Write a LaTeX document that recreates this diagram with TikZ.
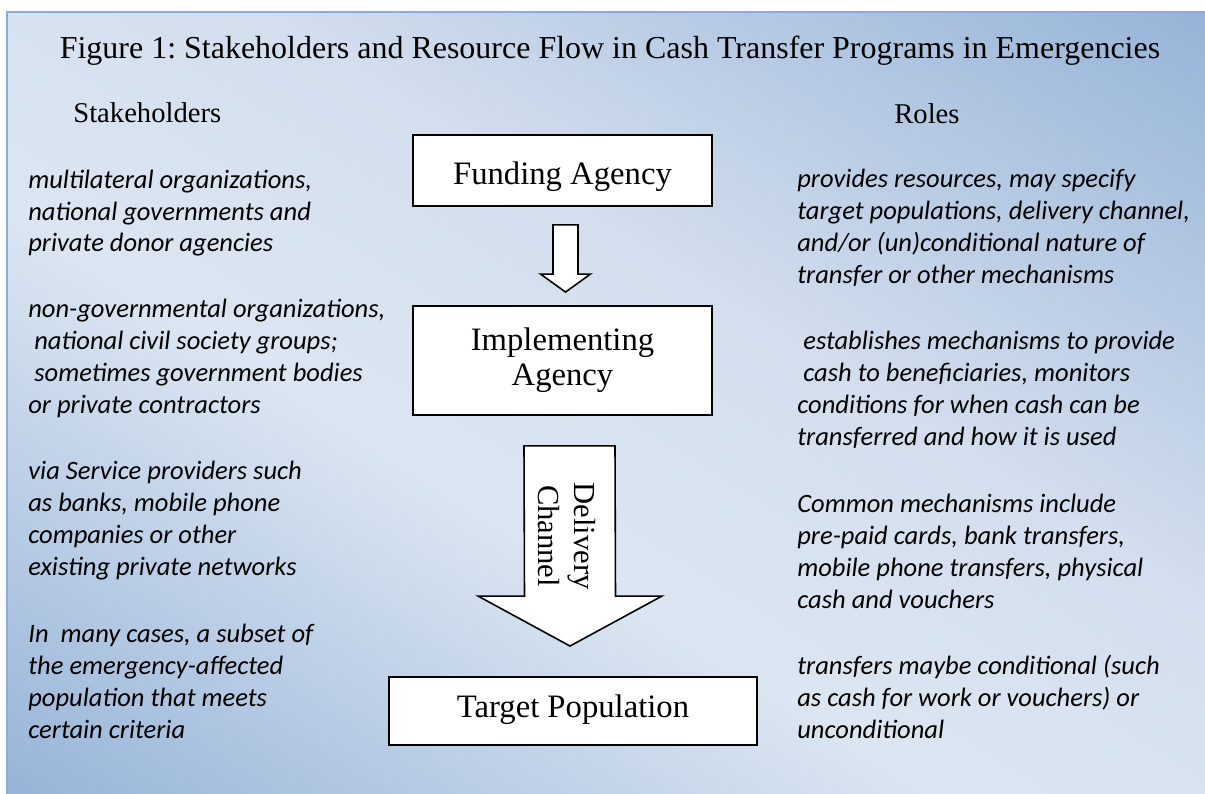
\documentclass[tikz,border=0pt]{standalone}
\usepackage{fontspec}
\setmainfont{Liberation Serif}
\newfontfamily\notefont{Carlito}
\usetikzlibrary{calc}
\frenchspacing
\definecolor{bgdark}{HTML}{95B3D7}
\definecolor{bglight}{HTML}{DCE6F2}
\definecolor{bgmid}{HTML}{D3DEEE}
\definecolor{framecol}{HTML}{8EAADB}
\pgfdeclarehorizontalshading{backdrop}{100bp}{color(0bp)=(bgdark); color(15bp)=(bgdark);
  color(42bp)=(bglight); color(58bp)=(bgmid); color(85bp)=(bgdark); color(100bp)=(bgdark)}

\begin{document}
\begin{tikzpicture}[x=0.02cm, y=-0.02cm,
    every node/.style={inner sep=0pt},
    head/.style={font=\fontsize{18.2}{19}\selectfont},
    col/.style={font=\fontsize{16.3}{18}\selectfont},
    note/.style={font=\notefont\itshape\fontsize{15.1}{18.1}\selectfont, align=left},
    box/.style={draw, fill=white, line width=1.1pt, align=center,
                font=\fontsize{18.6}{19}\selectfont},
    blk/.style={draw, fill=white, line width=0.9pt, line join=miter},
]
\useasboundingbox (0,0) rectangle (1205,794);

% ================================================== backdrop and frame
\shade[shading=backdrop, shading angle=57.9] (7,12) rectangle (1205,794);
\draw[framecol, line width=1.2pt] (7,794) -- (7,12) -- (1205,12);

\node[head, anchor=base] (title) at (610,59)
     {Figure 1: Stakeholders and Resource Flow in Cash Transfer Programs in Emergencies};
\node[col, anchor=base west] (stake) at (73,123) {Stakeholders};
\node[col, anchor=base west] (roles) at (894,124) {Roles};

% ================================================== the chain of boxes
\node[box, minimum width=5.98cm, minimum height=1.42cm, text height=16.5pt, text depth=0pt]
     (fund) at (562.5,170.5) {Funding Agency};
\node[box, minimum width=5.98cm, minimum height=2.18cm]
     (impl) at (562.5,360.5) {Implementing\\[1pt]Agency};
\node[box, minimum width=7.36cm, minimum height=1.36cm, text height=12.6pt, text depth=5pt]
     (target) at (573,711) {Target Population};

% small block arrow, funding -> implementing
\coordinate (a1top) at ($(fund.south)+(3,18)$);
\coordinate (a1tip) at ($(impl.north)+(3,-13)$);
\draw[blk] ($(a1top)+(-12.5,0)$) -- ($(a1tip)+(-12.5,-18)$) -- ($(a1tip)+(-25,-18)$)
     -- (a1tip) -- ($(a1tip)+(25,-18)$) -- ($(a1tip)+(12.5,-18)$) -- ($(a1top)+(12.5,0)$) -- cycle;

% delivery channel, implementing -> target
\coordinate (a2top) at ($(impl.south)+(7,30)$);
\coordinate (a2tip) at ($(target.north)+(-3,-30)$);
\draw[blk] ($(a2top)+(-45.5,0)$) -- ($(a2tip)+(-45.5,-50)$) -- ($(a2tip)+(-92,-50)$)
     -- (a2tip) -- ($(a2tip)+(92,-50)$) -- ($(a2tip)+(45.5,-50)$) -- ($(a2top)+(45.5,0)$) -- cycle;
\node[rotate=-90, align=center, font=\fontsize{17.4}{20}\selectfont] (chan) at (567,536)
     {Delivery\\Channel};

% ================================================== stakeholders (anchored on last line)
\node[note, anchor=base west] (s1) at (28,252)
     {multilateral organizations,\\national governments and\\private donor agencies};
\node[note, anchor=base west] (s2) at (28,413)
     {non-governmental organizations,\\\ national civil society groups;\\\ sometimes government bodies\\or private contractors};
\node[note, anchor=base west] (s3) at (28,575)
     {via Service providers such\\as banks, mobile phone\\companies or other\\existing private networks};
\node[note, anchor=base west] (s4) at (28,738)
     {In\ \ many cases, a subset of\\the emergency-affected\\population that meets\\certain criteria};

% ================================================== roles
\node[note, anchor=base west] (r1) at (797,283)
     {provides resources, may specify\\target populations, delivery channel,\\and/or (un)conditional nature of\\transfer or other mechanisms};
\node[note, anchor=base west] (r2) at (797,445)
     {\ establishes mechanisms to provide\\\ cash to beneficiaries, monitors\\conditions for when cash can be\\transferred and how it is used};
\node[note, anchor=base west] (r3) at (797,608)
     {Common mechanisms include\\pre-paid cards, bank transfers,\\mobile phone transfers, physical\\cash and vouchers};
\node[note, anchor=base west] (r4) at (797,738)
     {transfers maybe conditional (such\\as cash for work or vouchers) or\\unconditional};

\end{tikzpicture}
\end{document}
